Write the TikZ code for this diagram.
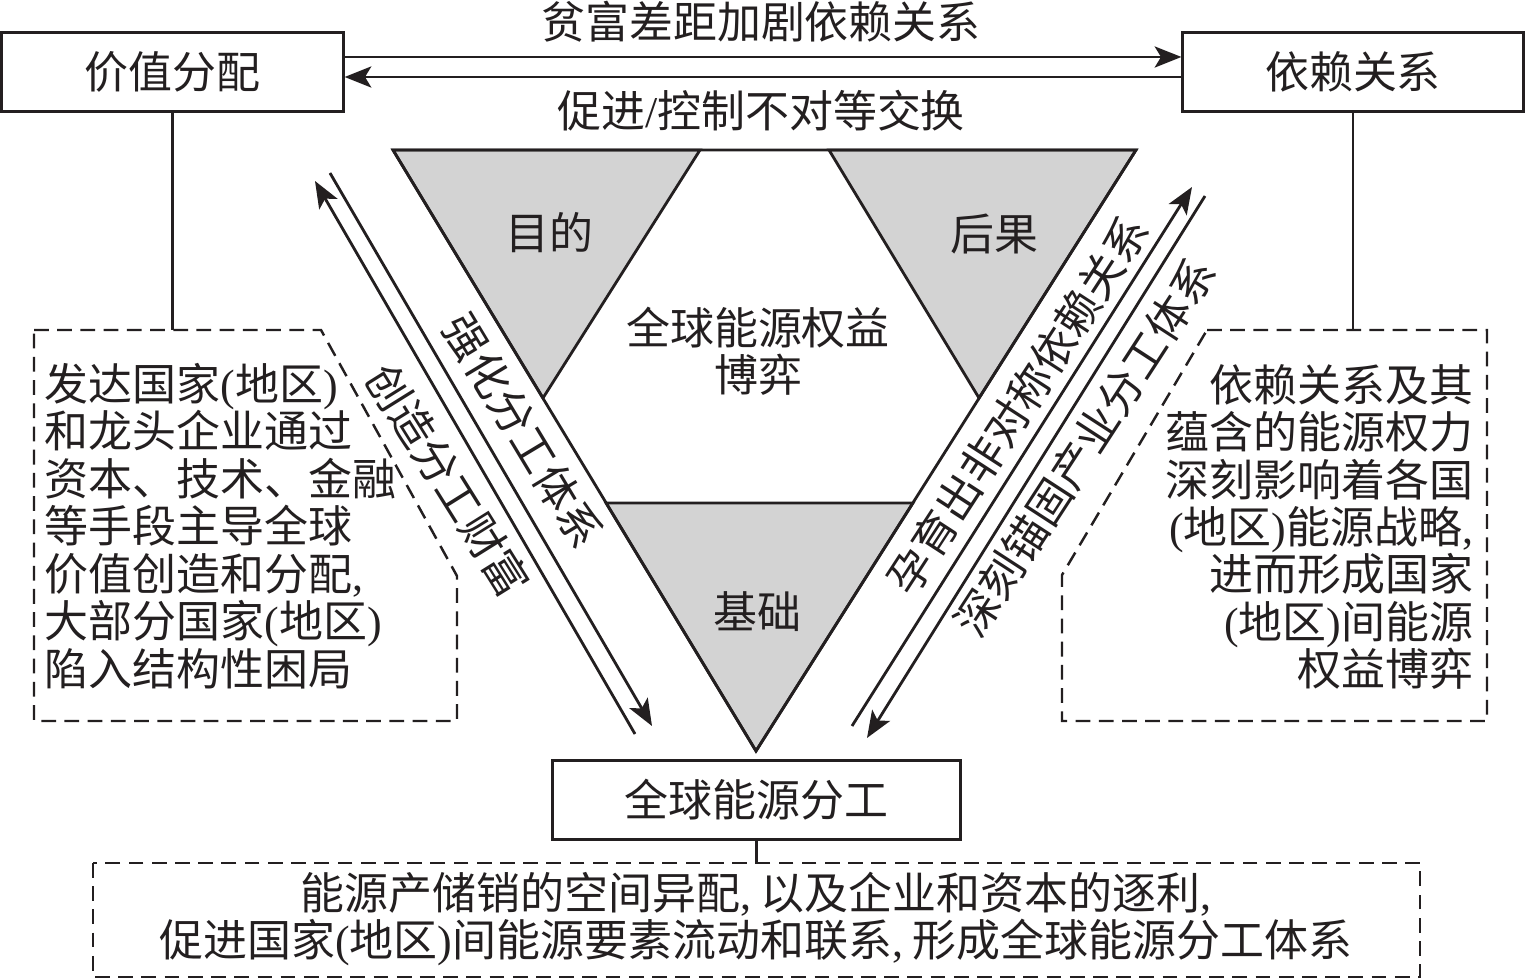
\documentclass[tikz,border=0pt]{standalone}
\usepackage{fontspec}
\setmainfont{Noto Sans CJK SC}
\newfontfamily\tmfont{Liberation Serif}
\usetikzlibrary{arrows.meta}
\definecolor{triGray}{RGB}{211,211,211}
\definecolor{inkBlack}{RGB}{35,31,32}
\newcommand{\myLP}{{\tmfont(}}
\newcommand{\myRP}{{\tmfont)}}
\newcommand{\myCM}{{\tmfont,}}
\newcommand{\mySL}{{\tmfont/}}
\begin{document}
\begin{tikzpicture}[x=0.01cm,y=-0.01cm,
  txt/.style={font=\fontsize{12.5pt}{13.5pt}\selectfont, inner sep=0pt, text=inkBlack},
  box/.style={draw=inkBlack, line width=0.85pt, inner sep=0pt, minimum height=0.79cm,
              font=\fontsize{12.5pt}{13.5pt}\selectfont, text=inkBlack},
  dbox/.style={draw=inkBlack, line width=0.7pt, dash pattern=on 4.2pt off 2.4pt},
  conn/.style={draw=inkBlack, line width=0.75pt},
  arr/.style={draw=inkBlack, line width=0.8pt,
              -{Stealth[length=7.6pt,width=6pt,inset=1.8pt,fill=inkBlack]}},
  tri/.style={draw=inkBlack, line width=0.8pt, line join=miter}]
\useasboundingbox (0,0) rectangle (1526,979);

% top boxes
\node[box, minimum width=3.41cm] (vd) at (172.5,72) {价值分配};
\node[box, minimum width=3.40cm] (yl) at (1353,72) {依赖关系};
\node[box, minimum width=4.07cm] (qn) at (756.5,800) {全球能源分工};

% horizontal arrows
\draw[arr] ([yshift=0.15cm]vd.east) -- ([yshift=0.15cm]yl.west);
\draw[arr] ([yshift=-0.05cm]yl.west) -- ([yshift=-0.05cm]vd.east);
\node[txt] (t1) at (761,22) {贫富差距加剧依赖关系};
\node[txt] (t2) at (761,111) {促进\mySL 控制不对等交换};

% triangle
\coordinate (T1) at (393,150);
\coordinate (T2) at (1136,150);
\coordinate (A) at (756,751);
\coordinate (L1) at (700,150);
\coordinate (L2) at (543,398);
\coordinate (R1) at (829,150);
\coordinate (R2) at (979,398);
\coordinate (B1) at (606,503);
\coordinate (B2) at (913,503);
\filldraw[tri, fill=triGray] (T1) -- (L1) -- (L2) -- cycle;
\filldraw[tri, fill=triGray] (R1) -- (T2) -- (R2) -- cycle;
\filldraw[tri, fill=triGray] (B1) -- (B2) -- (A) -- cycle;
\draw[tri] (T1) -- (T2) -- (A) -- cycle;
\node[txt] (md) at (549,233) {目的};
\node[txt] (hg) at (994,234) {后果};
\node[txt] (jc) at (757,612) {基础};
\node[txt, align=center] (ct) at (758,351) {全球能源权益\\博弈};

% slanted arrows
\coordinate (la1) at (635,734);
\coordinate (la2) at (315,181);
\coordinate (lb1) at (330,173);
\coordinate (lb2) at (652,726);
\coordinate (ra1) at (852,726);
\coordinate (ra2) at (1192,187);
\coordinate (rb1) at (1205,196);
\coordinate (rb2) at (867,738);
\draw[arr] (la1) -- (la2);
\draw[arr] (lb1) -- (lb2);
\draw[arr] (ra1) -- (ra2);
\draw[arr] (rb1) -- (rb2);
\node[txt, rotate=-59] (lab1) at (523,431) {强化分工体系};
\node[txt, rotate=-58] (lab2) at (448,480) {创造分工财富};
\node[txt, rotate=57] (lab3) at (1018,405) {孕育出非对称依赖关系};
\node[txt, rotate=57] (lab4) at (1085,447) {深刻锚固产业分工体系};

% dashed boxes
\draw[dbox] (34,330) -- (321,330) -- (457,576) -- (457,721) -- (34,721) -- cycle;
\draw[dbox] (1207,330) -- (1487,330) -- (1487,721) -- (1062,721) -- (1062,575) -- cycle;
\draw[dbox] (93,863) rectangle (1420,977);

% connectors
\coordinate (lt) at (172.5,330);
\coordinate (rt) at (1353,330);
\coordinate (bt) at (756.5,863);
\draw[conn] (vd.south) -- (lt);
\draw[conn] (yl.south) -- (rt);
\draw[conn] (qn.south) -- (bt);

% texts in dashed boxes
\node[txt, align=left, anchor=west] (ltxt) at (44,526) {发达国家\myLP 地区\myRP\\
和龙头企业通过\\
资本、技术、金融\\
等手段主导全球\\
价值创造和分配\myCM\\
大部分国家\myLP 地区\myRP\\
陷入结构性困局};
\node[txt, align=right, anchor=east] (rtxt) at (1474,527) {依赖关系及其\\
蕴含的能源权力\\
深刻影响着各国\\
\myLP 地区\myRP 能源战略\myCM\\
进而形成国家\\
\myLP 地区\myRP 间能源\\
权益博弈};
\node[txt, align=center] (btxt) at (756,919) {能源产储销的空间异配\myCM\ 以及企业和资本的逐利\myCM\\
促进国家\myLP 地区\myRP 间能源要素流动和联系\myCM\ 形成全球能源分工体系};
\end{tikzpicture}
\end{document}
